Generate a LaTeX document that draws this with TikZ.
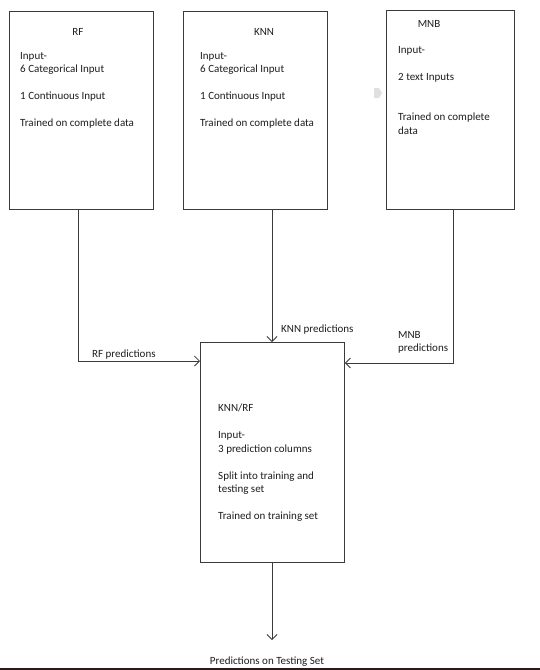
\documentclass[tikz,border=0pt]{standalone}
\usepackage{fontspec}
\setmainfont{Carlito}
\usetikzlibrary{arrows.meta}
\definecolor{linec}{HTML}{3A3A3A}
\definecolor{textc}{HTML}{1E1E1E}
\definecolor{barc}{HTML}{2B1A1A}
\begin{document}
\begin{tikzpicture}[x=1pt,y=-1pt,
  box/.style={draw=linec,line width=0.9pt,rectangle,inner sep=0pt,anchor=north west},
  txt/.style={inner sep=0pt,text=textc,font=\fontsize{11}{13.5}\selectfont,align=left},
  conn/.style={draw=linec,line width=0.8pt},
  arr/.style={conn,-{Straight Barb[length=5pt,width=10pt,line width=0.8pt]}}]
\useasboundingbox[fill=white] (0,0) rectangle (540,670);
\fill[barc] (0,668) rectangle (540,670);
% faint artifact
\fill[black!12] (374,88) -- (379,88) -- (382,93) -- (379,98) -- (374,98) -- cycle;
% boxes
\node[box,minimum width=144pt,minimum height=198pt] (rf) at (9,11) {};
\node[box,minimum width=144pt,minimum height=198pt] (knn) at (183,11) {};
\node[box,minimum width=128pt,minimum height=199pt] (mnb) at (386,10) {};
\node[box,minimum width=144pt,minimum height=220pt] (cb) at (200,342) {};
% texts
\node[txt] (rft) at (78,32) {RF};
\node[txt,anchor=north west] (rfb) at (20,52) {Input-\\6 Categorical Input\\[13.5pt]1 Continuous Input\\[13.5pt]Trained on complete data};
\node[txt] (knnt) at (264,32) {KNN};
\node[txt,anchor=north west] (knnb) at (200,52) {Input-\\6 Categorical Input\\[13.5pt]1 Continuous Input\\[13.5pt]Trained on complete data};
\node[txt] (mnbt) at (429,24) {MNB};
\node[txt,anchor=north west] (mnbb) at (398,46) {Input-\\[13.5pt]2 text Inputs\\[27pt]Trained on complete\\data};
\node[txt,anchor=north west] (cbt) at (218,404) {KNN/RF\\[13.5pt]Input-\\3 prediction columns\\[13.5pt]Split into training and\\testing set\\[13.5pt]Trained on training set};
% connectors
\coordinate (rfa) at (78,209);
\coordinate (knna) at (272,209);
\coordinate (mnba) at (453,209);
\draw[arr] (rfa) |- (cb.west |- 0,361);
\draw[arr] (knna) -- (knna |- cb.north);
\draw[arr] (mnba) |- (cb.east |- 0,363);
\coordinate (outp) at (272,640);
\draw[arr] (cb.south -| outp) -- (outp);
% connector labels
\node[txt,anchor=west] (rfl) at (92,355) {RF predictions};
\node[txt,anchor=west] (knnl) at (281,330) {KNN predictions};
\node[txt,anchor=north west] (mnbl) at (398,331) {MNB\\predictions};
\node[txt] (outl) at (267,662) {Predictions on Testing Set};
\end{tikzpicture}
\end{document}
